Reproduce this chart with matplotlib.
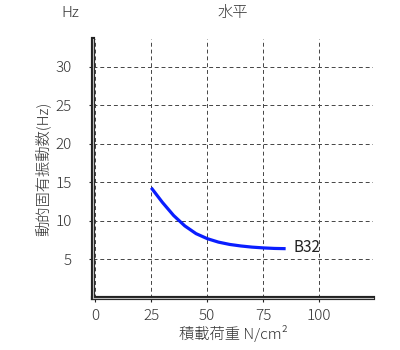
import matplotlib.pyplot as plt

plt.rcParams['font.family'] = ['Noto Sans CJK JP', 'DejaVu Sans']

# data
load = [25, 30, 35, 40, 45, 50, 55, 60, 65, 70, 75, 80, 85]
freq = [14.3, 12.4, 10.7, 9.35, 8.35, 7.7, 7.25, 6.95, 6.75, 6.6, 6.5, 6.43, 6.4]
x_ticks = [0, 25, 50, 75, 100]
y_ticks = [5, 10, 15, 20, 25, 30]
series_name = "B32"

fig = plt.figure(figsize=(4, 3.5), dpi=100)
ax = fig.add_axes([93 / 400, 1 - 298 / 350, (373 - 93) / 400, (298 - 39) / 350])

ax.plot(load, freq, color="#0a1eff", lw=2.3, solid_capstyle="butt", zorder=3)
ax.text(load[-1] + 3.5, freq[-1] + 0.1, series_name, fontsize=11, va="center", ha="left",
        color="#222222")

ax.set_xlim(-1, 124)
ax.set_ylim(0, 33.6)
ax.set_xticks(x_ticks)
ax.set_yticks(y_ticks)
ax.grid(True, color="#444444", linestyle=(0, (4, 3)), lw=0.7)
ax.set_axisbelow(True)

for side in ("top", "right"):
    ax.spines[side].set_visible(False)
for side in ("left", "bottom"):
    ax.spines[side].set_linewidth(3)
    ax.spines[side].set_color("#222222")
# inner light line to give the double-line look
ax.axvline(ax.get_xlim()[0], color="#bbbbbb", lw=0.8, zorder=4, clip_on=False)
ax.axhline(0, color="#bbbbbb", lw=0.8, zorder=4, clip_on=False)

ax.tick_params(axis="both", direction="out", length=3, width=0.8, colors="#222222",
               labelsize=11, labelcolor="#333333")
ax.tick_params(axis="y", pad=12)
ax.tick_params(axis="x", pad=5)
for lab in ax.get_xticklabels() + ax.get_yticklabels():
    lab.set_fontweight("light")

ax.set_xlabel("積載荷重 N/cm²", fontsize=11, color="#333333", labelpad=1, fontweight="light")
ax.set_ylabel("動的固有振動数(Hz)", fontsize=11, color="#333333", labelpad=4, fontweight="light")

fig.text(233 / 400, 1 - 13 / 350, "水平", fontsize=11, ha="center", va="center",
         color="#333333", fontweight="light")
fig.text(70 / 400, 1 - 13 / 350, "Hz", fontsize=11, ha="center", va="center",
         color="#333333", fontweight="light")

fig.savefig("out.png", dpi=100)
